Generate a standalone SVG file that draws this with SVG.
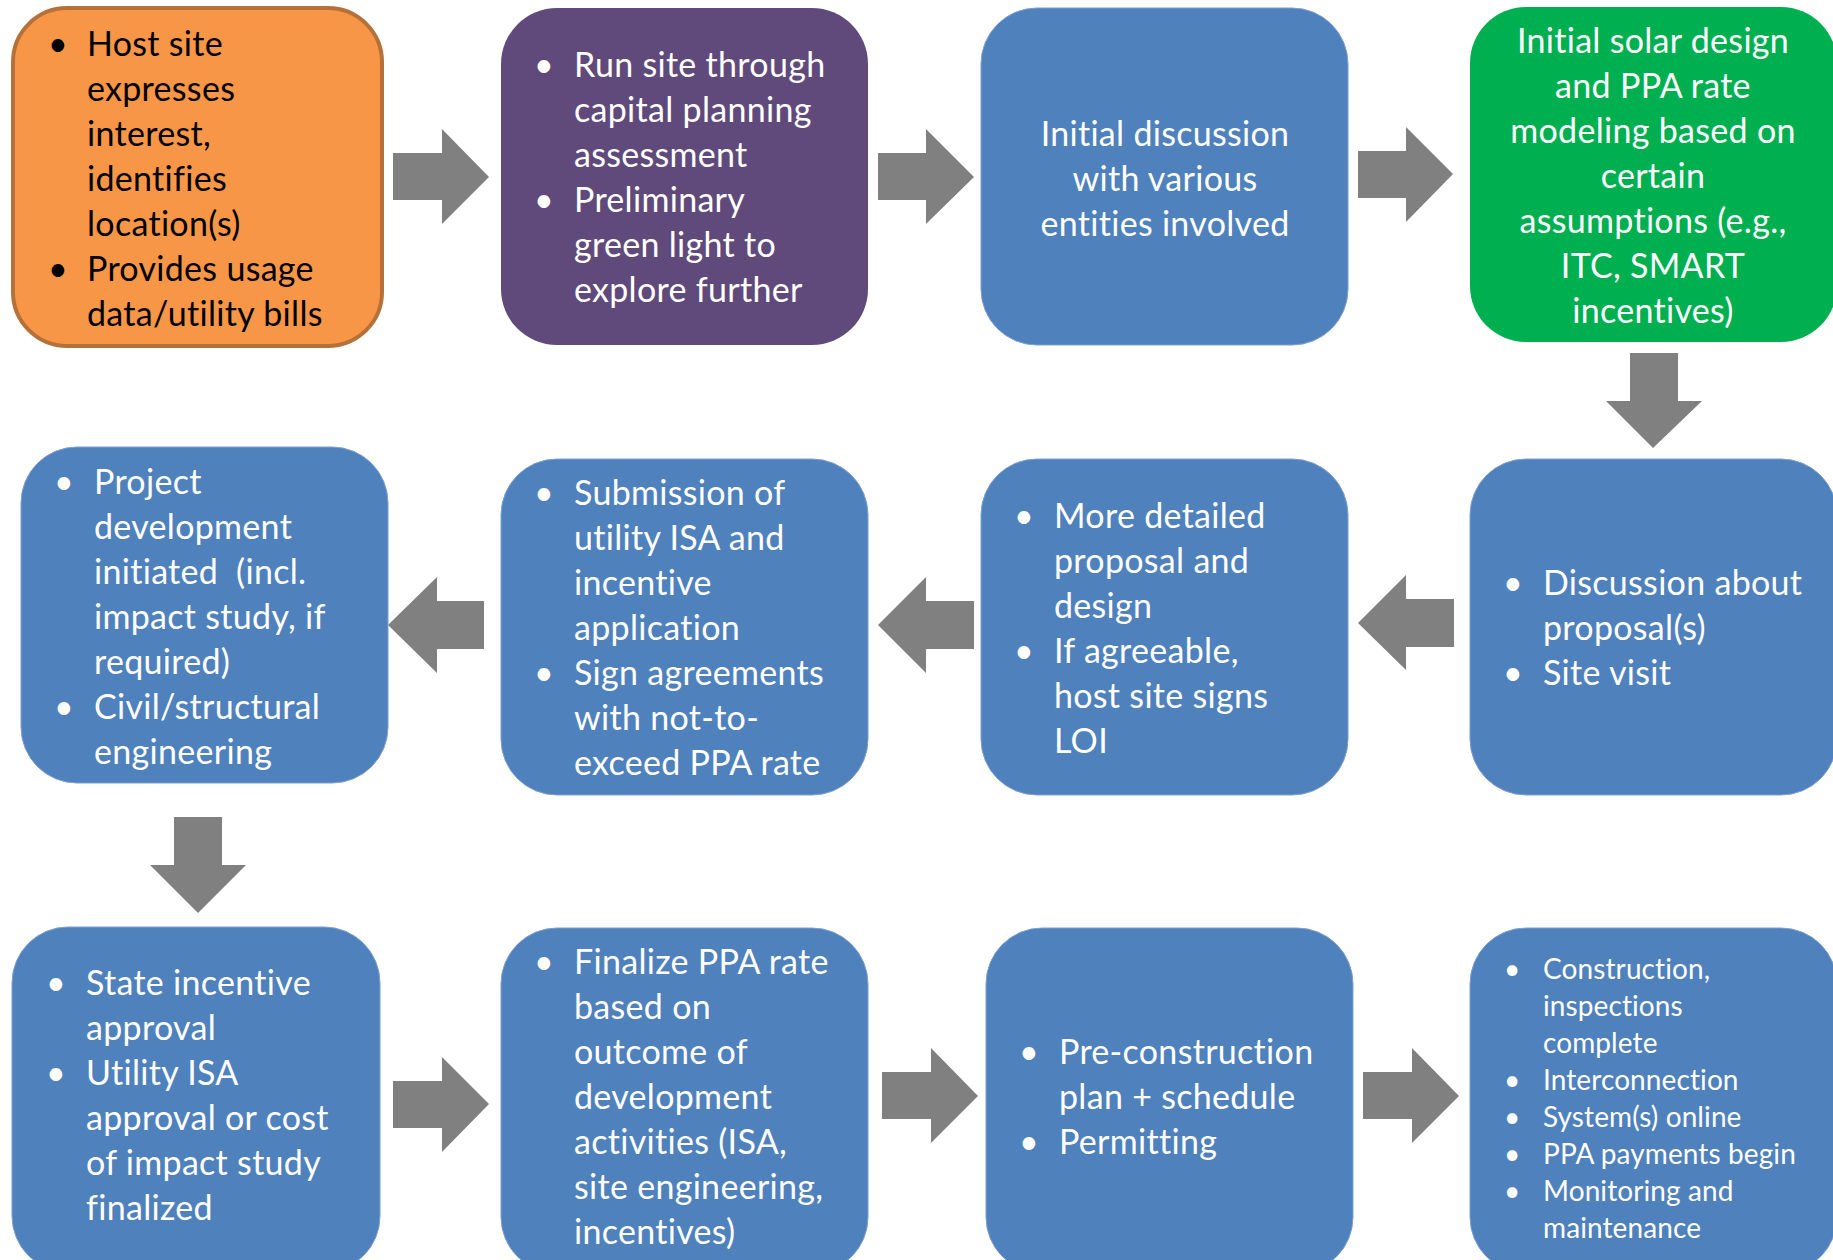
<svg xmlns="http://www.w3.org/2000/svg" width="1833" height="1260" viewBox="0 0 1833 1260">
<style>
.blue{fill:#4F81BD;stroke:#7F9FD0;stroke-width:1}
.t{font-family:Lato,"Liberation Sans",sans-serif;font-size:34px;letter-spacing:0.3px;fill:#FFFFFF}
.k{fill:#000000}
.s{font-size:28px;letter-spacing:0.1px}
.c{text-anchor:middle}
.arrow{fill:#808080}
</style>
<rect width="1833" height="1260" fill="#FFFFFF"/>
<g id="connectors">
<polygon class="arrow" points="393,153 442,153 442,129 489,177 442,224 442,200 393,200"/>
<polygon class="arrow" points="878,153 926,153 926,129 974,177 926,224 926,200 878,200"/>
<polygon class="arrow" points="1358,151 1406,151 1406,127 1453,174 1406,222 1406,198 1358,198"/>
<polygon class="arrow" points="1630,353 1678,353 1678,401 1702,401 1653,448 1606,401 1630,401"/>
<polygon class="arrow" points="1454,599 1406,599 1406,575 1358,623 1406,670 1406,647 1454,647"/>
<polygon class="arrow" points="974,601 926,601 926,577 878,625 926,673 926,649 974,649"/>
<polygon class="arrow" points="484,601 437,601 437,577 388,625 437,673 437,649 484,649"/>
<polygon class="arrow" points="174,817 222,817 222,865 246,865 198,913 150,865 174,865"/>
<polygon class="arrow" points="393,1081 442,1081 442,1057 489,1104 442,1152 442,1128 393,1128"/>
<polygon class="arrow" points="882,1072 931,1072 931,1048 978,1096 931,1143 931,1119 882,1119"/>
<polygon class="arrow" points="1363,1072 1412,1072 1412,1048 1459,1096 1412,1143 1412,1119 1363,1119"/>
</g>
<g id="n1">
<rect x="13" y="8" width="369" height="338" rx="54" fill="#F79646" stroke="#B6703A" stroke-width="4"/>
<text class="t k"><tspan x="48" y="56">•</tspan><tspan x="87" y="56">Host site</tspan><tspan x="87" y="101">expresses</tspan><tspan x="87" y="146">interest,</tspan><tspan x="87" y="191">identifies</tspan><tspan x="87" y="236">location(s)</tspan><tspan x="48" y="281">•</tspan><tspan x="87" y="281">Provides usage</tspan><tspan x="87" y="326">data/utility bills</tspan></text>
</g>
<g id="n2">
<rect x="501" y="8" width="367" height="337" rx="56" fill="#604A7B"/>
<text class="t"><tspan x="534" y="77">•</tspan><tspan x="574" y="77">Run site through</tspan><tspan x="574" y="122">capital planning</tspan><tspan x="574" y="167">assessment</tspan><tspan x="534" y="212">•</tspan><tspan x="574" y="212">Preliminary</tspan><tspan x="574" y="257">green light to</tspan><tspan x="574" y="302">explore further</tspan></text>
</g>
<g id="n3">
<rect class="blue" x="981" y="8" width="367" height="337" rx="56"/>
<text class="t c"><tspan x="1165" y="146">Initial discussion</tspan><tspan x="1165" y="191">with various</tspan><tspan x="1165" y="236">entities involved</tspan></text>
</g>
<g id="n4">
<rect x="1470" y="7" width="367" height="335" rx="56" fill="#00B050"/>
<text class="t c"><tspan x="1653" y="53">Initial solar design</tspan><tspan x="1653" y="98">and PPA rate</tspan><tspan x="1653" y="143">modeling based on</tspan><tspan x="1653" y="188">certain</tspan><tspan x="1653" y="233">assumptions (e.g.,</tspan><tspan x="1653" y="278">ITC, SMART</tspan><tspan x="1653" y="323">incentives)</tspan></text>
</g>
<g id="n5">
<rect class="blue" x="21" y="447" width="367" height="336" rx="56"/>
<text class="t"><tspan x="54" y="494">•</tspan><tspan x="94" y="494">Project</tspan><tspan x="94" y="539">development</tspan><tspan x="94" y="584" xml:space="preserve">initiated  (incl.</tspan><tspan x="94" y="629">impact study, if</tspan><tspan x="94" y="674">required)</tspan><tspan x="54" y="719">•</tspan><tspan x="94" y="719">Civil/structural</tspan><tspan x="94" y="764">engineering</tspan></text>
</g>
<g id="n6">
<rect class="blue" x="501" y="459" width="367" height="336" rx="56"/>
<text class="t"><tspan x="534" y="505">•</tspan><tspan x="574" y="505">Submission of</tspan><tspan x="574" y="550">utility ISA and</tspan><tspan x="574" y="595">incentive</tspan><tspan x="574" y="640">application</tspan><tspan x="534" y="685">•</tspan><tspan x="574" y="685">Sign agreements</tspan><tspan x="574" y="730">with not-to-</tspan><tspan x="574" y="775">exceed PPA rate</tspan></text>
</g>
<g id="n7">
<rect class="blue" x="981" y="459" width="367" height="336" rx="56"/>
<text class="t"><tspan x="1014" y="528">•</tspan><tspan x="1054" y="528">More detailed</tspan><tspan x="1054" y="573">proposal and</tspan><tspan x="1054" y="618">design</tspan><tspan x="1014" y="663">•</tspan><tspan x="1054" y="663">If agreeable,</tspan><tspan x="1054" y="708">host site signs</tspan><tspan x="1054" y="753">LOI</tspan></text>
</g>
<g id="n8">
<rect class="blue" x="1470" y="459" width="367" height="336" rx="56"/>
<text class="t"><tspan x="1503" y="595">•</tspan><tspan x="1543" y="595">Discussion about</tspan><tspan x="1543" y="640">proposal(s)</tspan><tspan x="1503" y="685">•</tspan><tspan x="1543" y="685">Site visit</tspan></text>
</g>
<g id="n9">
<rect class="blue" x="12" y="927" width="368" height="345" rx="56"/>
<text class="t"><tspan x="46" y="995">•</tspan><tspan x="86" y="995">State incentive</tspan><tspan x="86" y="1040">approval</tspan><tspan x="46" y="1085">•</tspan><tspan x="86" y="1085">Utility ISA</tspan><tspan x="86" y="1130">approval or cost</tspan><tspan x="86" y="1175">of impact study</tspan><tspan x="86" y="1220">finalized</tspan></text>
</g>
<g id="n10">
<rect class="blue" x="501" y="928" width="367" height="345" rx="56"/>
<text class="t"><tspan x="534" y="974">•</tspan><tspan x="574" y="974">Finalize PPA rate</tspan><tspan x="574" y="1019">based on</tspan><tspan x="574" y="1064">outcome of</tspan><tspan x="574" y="1109">development</tspan><tspan x="574" y="1154">activities (ISA,</tspan><tspan x="574" y="1199">site engineering,</tspan><tspan x="574" y="1244">incentives)</tspan></text>
</g>
<g id="n11">
<rect class="blue" x="986" y="928" width="367" height="345" rx="56"/>
<text class="t"><tspan x="1019" y="1064">•</tspan><tspan x="1059" y="1064">Pre-construction</tspan><tspan x="1059" y="1109">plan + schedule</tspan><tspan x="1019" y="1154">•</tspan><tspan x="1059" y="1154">Permitting</tspan></text>
</g>
<g id="n12">
<rect class="blue" x="1470" y="928" width="367" height="345" rx="56"/>
<text class="t s"><tspan x="1504" y="979">•</tspan><tspan x="1543" y="979">Construction,</tspan><tspan x="1543" y="1016">inspections</tspan><tspan x="1543" y="1053">complete</tspan><tspan x="1504" y="1090">•</tspan><tspan x="1543" y="1090">Interconnection</tspan><tspan x="1504" y="1127">•</tspan><tspan x="1543" y="1127">System(s) online</tspan><tspan x="1504" y="1164">•</tspan><tspan x="1543" y="1164">PPA payments begin</tspan><tspan x="1504" y="1201">•</tspan><tspan x="1543" y="1201">Monitoring and</tspan><tspan x="1543" y="1238">maintenance</tspan></text>
</g>
</svg>
